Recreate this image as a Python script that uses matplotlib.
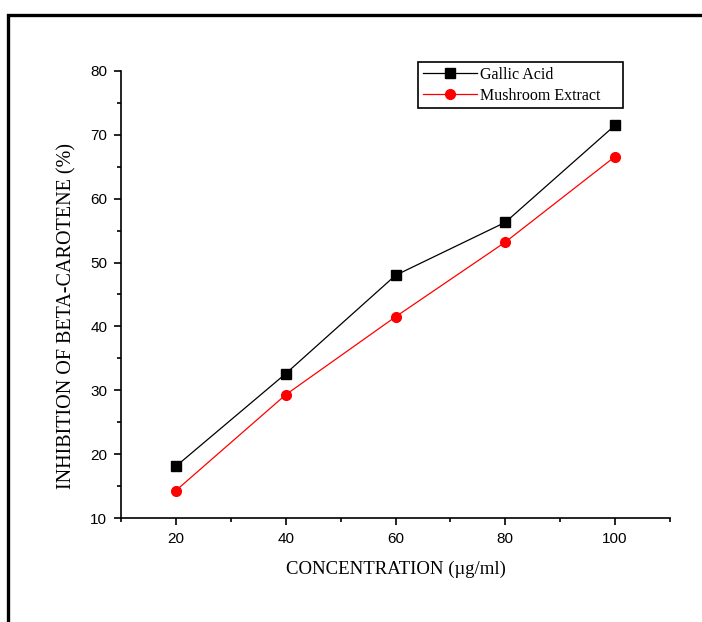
import matplotlib
matplotlib.use('Agg')
import matplotlib.pyplot as plt
from matplotlib.patches import Rectangle
from matplotlib.ticker import MultipleLocator

conc = [20, 40, 60, 80, 100]
gallic = [18.1, 32.6, 48.0, 56.3, 71.5]
mushroom = [14.3, 29.3, 41.5, 53.2, 66.6]

fig = plt.figure(figsize=(7.02, 6.22), dpi=100)
ax = fig.add_axes([0.1724, 0.1672, 0.782, 0.7187])

# outer frame around the whole plot
fig.patches.append(Rectangle((0.0115, -0.05), 1.2, 0.976 + 0.05, transform=fig.transFigure,
                             fill=False, edgecolor='black', linewidth=2.4, zorder=0))

ax.plot(conc, gallic, color='black', lw=0.9, marker='s', ms=6.5, label='Gallic Acid')
ax.plot(conc, mushroom, color='red', lw=0.9, marker='o', ms=7, label='Mushroom Extract')

ax.set_xlim(10, 110)
ax.set_ylim(10, 80)
ax.xaxis.set_major_locator(MultipleLocator(20))
ax.xaxis.set_minor_locator(MultipleLocator(10))
ax.yaxis.set_major_locator(MultipleLocator(10))
ax.yaxis.set_minor_locator(MultipleLocator(5))
ax.set_xticks([20, 40, 60, 80, 100])

for side in ['top', 'right']:
    ax.spines[side].set_visible(False)
for side in ['left', 'bottom']:
    ax.spines[side].set_linewidth(1.2)

ax.tick_params(which='major', direction='out', length=5, width=1.2, labelsize=11,
               colors='black', pad=5)
ax.tick_params(which='minor', direction='out', length=3, width=1.2)
for lab in ax.get_xticklabels() + ax.get_yticklabels():
    lab.set_family('Liberation Sans')

ax.set_xlabel('CONCENTRATION (µg/ml)', family='Liberation Serif', fontsize=13.5, labelpad=11)
ax.set_ylabel('INHIBITION OF BETA-CAROTENE (%)', family='Liberation Serif', fontsize=14.5)
ax.yaxis.set_label_coords(-0.082, 0.452)

leg = ax.legend(loc='upper left', bbox_to_anchor=(0.541, 0.9, 0.373, 0.12), mode='expand',
                fancybox=False, edgecolor='black', framealpha=1, handlelength=3.4,
                borderpad=0.3, labelspacing=0.3, handletextpad=0.2, borderaxespad=0,
                prop={'family': 'Liberation Serif', 'size': 11.5})
leg.get_frame().set_linewidth(1.2)

fig.savefig('out.png', dpi=100)
